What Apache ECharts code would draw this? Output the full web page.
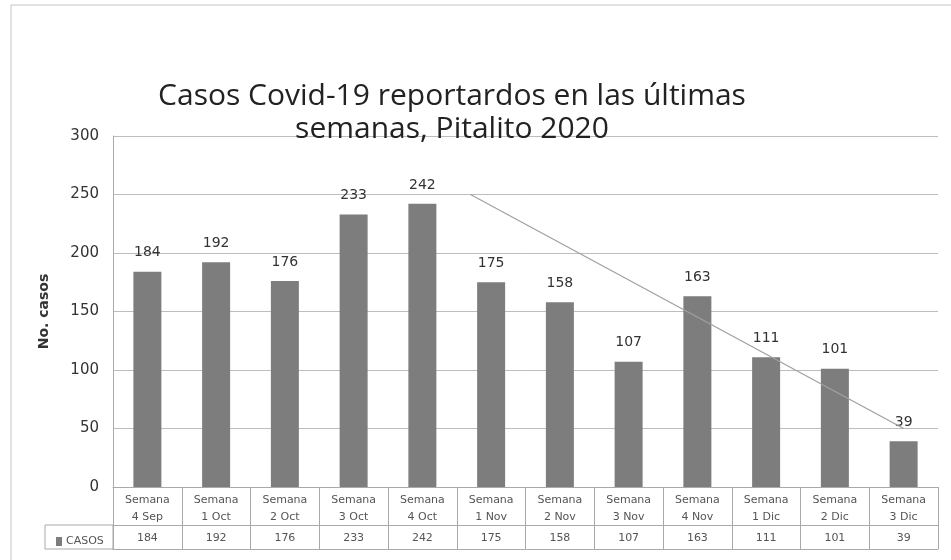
<!DOCTYPE html>
<html>
<head>
<meta charset="utf-8">
<script src="https://cdn.jsdelivr.net/npm/echarts@6/dist/echarts.min.js"></script>
<style>
  html, body { margin: 0; padding: 0; background: #fff; }
  #chart { width: 951px; height: 560px; }
</style>
</head>
<body>
<div id="chart"></div>
<script>
// semanas (categorias) y casos reportados
const semanas = ['Semana\n4 Sep', 'Semana\n1 Oct', 'Semana\n2 Oct', 'Semana\n3 Oct', 'Semana\n4 Oct', 'Semana\n1 Nov',
  'Semana\n2 Nov', 'Semana\n3 Nov', 'Semana\n4 Nov', 'Semana\n1 Dic', 'Semana\n2 Dic', 'Semana\n3 Dic']
const casos = [184, 192, 176, 233, 242, 175, 158, 107, 163, 111, 101, 39]
// linea de tendencia dibujada a mano (posicion en semanas, casos)
const tendencia = [[5.2, 250], [11.5, 50]]
const yTicks = { min: 0, max: 300, interval: 50 }

const gris = '#a9a9a9'
const fuente = 'DejaVu Sans'

const option = {
  backgroundColor: '#fff',
  animation: false,
  title: {
    text: 'Casos Covid-19 reportardos en las últimas\nsemanas, Pitalito 2020',
    left: 447,
    top: 75,
    textAlign: 'center',
    textStyle: {
      fontFamily: 'Open Sans',
      fontSize: 30,
      fontWeight: 'normal',
      color: '#222',
      lineHeight: 33
    }
  },
  legend: {
    data: ['CASOS'],
    left: 51,
    top: 531,
    icon: 'rect',
    itemWidth: 6,
    itemHeight: 9,
    itemGap: 4,
    textStyle: { fontFamily: fuente, fontSize: 11, color: '#555', padding: [0, 0, 0, -1] }
  },
  grid: {
    left: 113,
    right: 13,
    top: 136,
    bottom: 73,
    containLabel: false
  },
  xAxis: [
    {
      type: 'category',
      data: semanas,
      axisLine: { show: true, lineStyle: { color: gris } },
      axisTick: { show: true, length: 62, interval: 0, lineStyle: { color: gris } },
      axisLabel: { interval: 0, margin: 5, fontFamily: fuente, fontSize: 11, color: '#555', lineHeight: 17 }
    },
    {
      type: 'category',
      data: semanas,
      position: 'bottom',
      offset: 38,
      axisLine: { show: true, lineStyle: { color: gris } },
      axisTick: { show: false },
      axisLabel: {
        interval: 0,
        margin: 8,
        fontFamily: fuente,
        fontSize: 11,
        color: '#555',
        formatter (value, i) {
          return String(casos[i])
        }
      }
    },
    {
      type: 'category',
      data: semanas,
      position: 'bottom',
      offset: 62,
      axisLine: { show: true, lineStyle: { color: gris } },
      axisTick: { show: false },
      axisLabel: { show: false }
    },
    {
      type: 'value',
      min: 0,
      max: semanas.length,
      show: false
    }
  ],
  yAxis: {
    type: 'value',
    min: yTicks.min,
    max: yTicks.max,
    interval: yTicks.interval,
    name: 'No. casos',
    nameLocation: 'middle',
    nameRotate: 90,
    nameGap: 62,
    nameTextStyle: { fontFamily: fuente, fontSize: 14, fontWeight: 'bold', color: '#333' },
    axisLine: { show: true, lineStyle: { color: gris } },
    axisTick: { show: false },
    axisLabel: { margin: 14, fontFamily: fuente, fontSize: 15, color: '#333' },
    splitLine: { lineStyle: { color: '#bdbdbd' } }
  },
  series: [
    {
      name: 'CASOS',
      type: 'bar',
      data: casos,
      barWidth: 28,
      itemStyle: { color: '#7d7d7d' },
      label: {
        show: true,
        position: 'top',
        distance: 12,
        fontFamily: fuente,
        fontSize: 14,
        color: '#333'
      }
    },
    {
      name: 'tendencia',
      type: 'line',
      xAxisIndex: 3,
      data: tendencia,
      symbol: 'none',
      silent: true,
      lineStyle: { color: '#a0a0a0', width: 1.2 }
    }
  ],
  graphic: [
    {
      type: 'rect',
      shape: { x: 11, y: 5, width: 960, height: 600 },
      style: { fill: 'none', stroke: '#c4c4c4', lineWidth: 1 },
      silent: true
    },
    {
      type: 'rect',
      shape: { x: 45, y: 525, width: 68, height: 24 },
      style: { fill: 'none', stroke: gris, lineWidth: 1 },
      silent: true
    }
  ]
}

const myChart = echarts.init(document.getElementById('chart'))
myChart.setOption(option)
</script>
</body>
</html>
